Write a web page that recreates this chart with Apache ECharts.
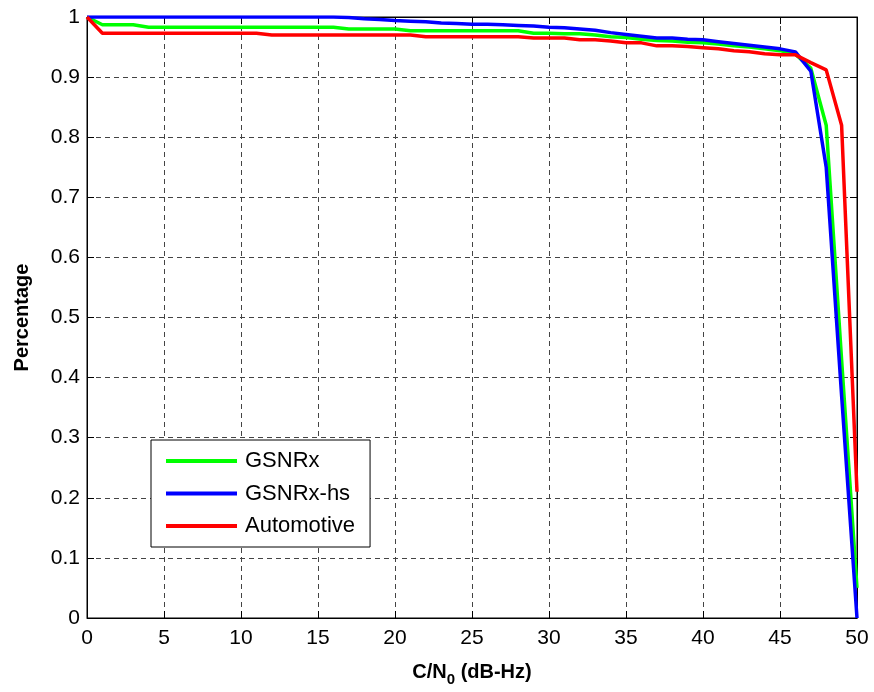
<!DOCTYPE html>
<html>
<head>
<meta charset="utf-8">
<script src="https://cdn.jsdelivr.net/npm/echarts@6/dist/echarts.min.js"></script>
<style>html,body{margin:0;padding:0;background:#fff;}#c{width:874px;height:692px;}</style>
</head>
<body>
<div id="c"></div>
<script>
var cn0 = [];
for (var i = 0; i <= 50; i++) cn0.push(i);

var gsnrx = [1.0, 0.987, 0.987, 0.987, 0.983, 0.983, 0.983, 0.983, 0.983, 0.983,
  0.983, 0.983, 0.983, 0.983, 0.983, 0.983, 0.983, 0.980, 0.980, 0.980,
  0.980, 0.977, 0.977, 0.977, 0.977, 0.977, 0.977, 0.977, 0.977, 0.973,
  0.973, 0.972, 0.972, 0.970, 0.967, 0.966, 0.963, 0.961, 0.960, 0.958,
  0.957, 0.955, 0.952, 0.950, 0.947, 0.944, 0.938, 0.915, 0.82, 0.43, 0.05];

var gsnrxHs = [1.0, 1.0, 1.0, 1.0, 1.0, 1.0, 1.0, 1.0, 1.0, 1.0,
  1.0, 1.0, 1.0, 1.0, 1.0, 1.0, 1.0, 0.999, 0.997, 0.996,
  0.994, 0.993, 0.992, 0.990, 0.989, 0.988, 0.988, 0.987, 0.986, 0.985,
  0.983, 0.982, 0.980, 0.978, 0.974, 0.971, 0.968, 0.965, 0.965, 0.963,
  0.962, 0.959, 0.956, 0.953, 0.950, 0.947, 0.942, 0.91, 0.75, 0.37, 0.0];

var automotive = [1.0, 0.973, 0.973, 0.973, 0.973, 0.973, 0.973, 0.973, 0.973, 0.973,
  0.973, 0.973, 0.970, 0.970, 0.970, 0.970, 0.970, 0.970, 0.970, 0.970,
  0.970, 0.970, 0.967, 0.967, 0.967, 0.967, 0.967, 0.967, 0.967, 0.965,
  0.965, 0.965, 0.962, 0.962, 0.960, 0.957, 0.957, 0.952, 0.952, 0.951,
  0.949, 0.947, 0.944, 0.942, 0.939, 0.937, 0.937, 0.924, 0.912, 0.82, 0.21];

var seriesNames = ['GSNRx', 'GSNRx-hs', 'Automotive'];
var seriesColors = ['#00ff00', '#0000ff', '#ff0000'];
var seriesValues = [gsnrx, gsnrxHs, automotive];

function pairs(vals) { return cn0.map(function (x, i) { return [x, vals[i]]; }); }

var font = '"Liberation Sans", Arial, sans-serif';
var gridLine = { show: true, lineStyle: { color: '#444', type: [5, 4], width: 1 } };

var chart = echarts.init(document.getElementById('c'), null, { renderer: 'canvas' });
chart.setOption({
  animation: false,
  backgroundColor: '#fff',
  textStyle: { fontFamily: font },
  grid: { left: 87, right: 17, top: 17, bottom: 69, show: true, borderColor: '#000', borderWidth: 1, backgroundColor: 'transparent' },
  legend: {
    left: 151, top: 440, orient: 'vertical',
    backgroundColor: '#fff', borderColor: '#000', borderWidth: 1,
    padding: [10, 15, 10, 15], itemWidth: 71, itemHeight: 4, itemGap: 10.5,
    icon: 'rect',
    textStyle: { fontSize: 22, lineHeight: 22, color: '#000', fontFamily: font, padding: [0, 0, 0, 3] },
    data: seriesNames
  },
  xAxis: [{
    type: 'value', min: 0, max: 50, interval: 5,
    name: '{a|C/N}{b|0}{a| (dB-Hz)}', nameLocation: 'middle', nameGap: 40,
    nameTextStyle: { rich: {
      a: { fontSize: 20, fontWeight: 'bold', color: '#000', fontFamily: font },
      b: { fontSize: 15, fontWeight: 'bold', color: '#000', fontFamily: font, padding: [14, 0, 0, 0] }
    } },
    axisLine: { show: true, onZero: false, lineStyle: { color: '#000', width: 1 } },
    axisTick: { inside: true, length: 7, lineStyle: { color: '#000' } },
    axisLabel: { fontSize: 21, color: '#000', margin: 10, fontFamily: font },
    splitLine: gridLine
  }, {
    type: 'value', min: 0, max: 50, interval: 5, position: 'top',
    axisLine: { show: true, onZero: false, lineStyle: { color: '#000' } },
    axisTick: { inside: true, length: 7, lineStyle: { color: '#000' } },
    axisLabel: { show: false }, splitLine: { show: false }
  }],
  yAxis: [{
    type: 'value', min: 0, max: 1, interval: 0.1,
    name: 'Percentage', nameLocation: 'middle', nameGap: 55,
    nameTextStyle: { fontSize: 20, fontWeight: 'bold', color: '#000', fontFamily: font },
    axisLine: { show: true, onZero: false, lineStyle: { color: '#000', width: 1 } },
    axisTick: { inside: true, length: 7, lineStyle: { color: '#000' } },
    axisLabel: { fontSize: 21, color: '#000', margin: 7, fontFamily: font },
    splitLine: gridLine
  }, {
    type: 'value', min: 0, max: 1, interval: 0.1, position: 'right',
    axisLine: { show: true, onZero: false, lineStyle: { color: '#000' } },
    axisTick: { inside: true, length: 7, lineStyle: { color: '#000' } },
    axisLabel: { show: false }, splitLine: { show: false }
  }],
  series: seriesNames.map(function (n, k) {
    return {
      name: n, type: 'line', xAxisIndex: 0, yAxisIndex: 0,
      data: pairs(seriesValues[k]), symbol: 'none', showSymbol: false,
      lineStyle: { color: seriesColors[k], width: 3.5 },
      itemStyle: { color: seriesColors[k] }, z: 3 + k
    };
  })
});
</script>
</body>
</html>
